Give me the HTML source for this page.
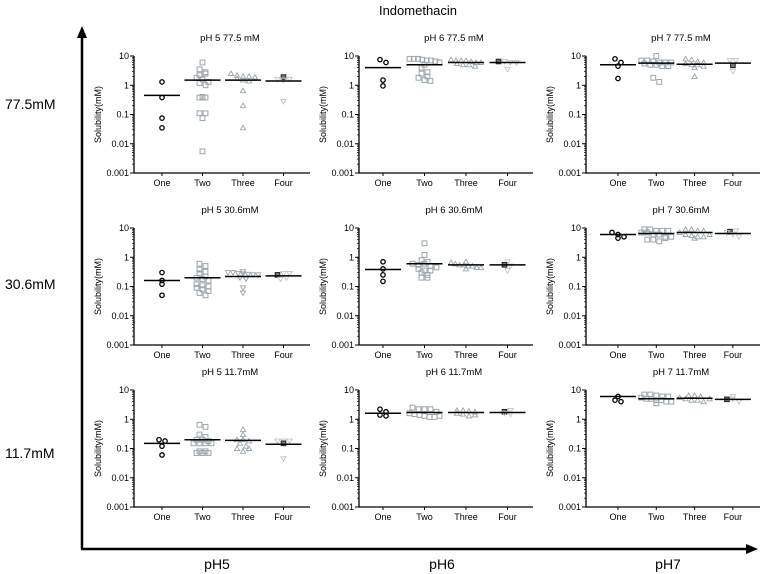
<!DOCTYPE html>
<html><head><meta charset="utf-8"><style>
html,body{margin:0;padding:0;background:#fff;}
svg{display:block;font-family:"Liberation Sans",Arial,sans-serif;}
</style></head><body>
<svg id="fig" width="764" height="574" viewBox="0 0 764 574">
<text x="418" y="15" text-anchor="middle" font-size="13">Indomethacin</text>
<g>
<line x1="82" y1="549" x2="82" y2="36" stroke="#000" stroke-width="2.5"/>
<polygon points="82,26 77,38 87,38" fill="#000"/>
<line x1="81" y1="549" x2="748" y2="549" stroke="#000" stroke-width="2.5"/>
<polygon points="758,549 746,544 746,554" fill="#000"/>
<text x="5" y="109" font-size="14">77.5mM</text>
<text x="5" y="289" font-size="14">30.6mM</text>
<text x="5" y="458" font-size="14">11.7mM</text>
<text x="217" y="569" font-size="14" text-anchor="middle">pH5</text>
<text x="442" y="569" font-size="14" text-anchor="middle">pH6</text>
<text x="668" y="569" font-size="14" text-anchor="middle">pH7</text>
</g>
<g id="panels"></g>
</svg>
<script>
const categories = ["One","Two","Three","Four"];
const tickValues = [10,1,0.1,0.01,0.001];
const tickLabels = ["10","1","0.1","0.01","0.001"];
const panelTitles = [
 "pH 5 77.5 mM","pH 6 77.5 mM","pH 7 77.5 mM",
 "pH 5 30.6mM","pH 6 30.6mM","pH 7 30.6mM",
 "pH 5 11.7mM","pH 6 11.7mM","pH 7 11.7mM"];
// per panel: values for groups One, Two, Three, Four
const groupOne = [
 [1.3,0.38,0.075,0.035],[7.5,6,1.5,0.95],[8,6,4.5,1.7],
 [0.3,0.16,0.12,0.05],[0.7,0.4,0.25,0.15],[7,6,5,4.5],
 [0.2,0.18,0.12,0.06],[2.2,1.8,1.4,1.3],[6,4.5,4]];
const groupTwo = [
 [6,3.5,2.8,2.2,2.5,1.8,1.6,1.3,1.2,1.0,0.4,0.38,0.38,0.11,0.11,0.075,0.0055],
 [8,8,8,7.5,7,7,6.5,6,5,4,2.8,2.5,2,1.8,1.5,1.4],
 [10,7,7,6.5,6,6,6,5.5,5,5,4.5,4.5,1.8,1.3],
 [0.6,0.5,0.38,0.32,0.28,0.22,0.2,0.18,0.16,0.12,0.11,0.1,0.09,0.08,0.07,0.06,0.05],
 [3,1.2,0.8,0.7,0.6,0.55,0.6,0.5,0.45,0.4,0.35,0.35,0.3,0.25,0.2,0.2],
 [9,9,8,8,8,7,7,6,6,5,5,4,4,3.5,4.5],
 [0.65,0.55,0.3,0.25,0.2,0.2,0.18,0.15,0.15,0.15,0.15,0.08,0.07,0.07,0.07,0.08],
 [2.5,2.2,2.2,2.2,1.8,1.6,1.5,1.4,1.3,1.2,1.2,1.3],
 [7,7,6.5,6,6,5.5,5,5,4.5,4.5,4,4,3.5]];
const groupThree = [
 [2.5,2.2,2,2,1.9,1.7,1.5,1.4,0.65,0.2,0.035],
 [7.5,7,7,7,6.5,6,6,5.5,5,5,4.5],
 [8,7.5,6.5,6,5.5,5,5,4.5,4,2],
 [0.32,0.3,0.3,0.28,0.27,0.26,0.25,0.25,0.2,0.18,0.09,0.06],
 [0.7,0.65,0.6,0.55,0.55,0.5,0.5,0.45,0.45,0.4],
 [9,9,8,8,7,6,5.5,5,5,4.5,6],
 [0.45,0.3,0.2,0.2,0.18,0.15,0.12,0.1,0.08,0.1],
 [2,2,1.9,1.8,1.6,1.5,1.3,1.4],
 [6.5,6.5,6,5.5,5,4.5,4.5,4,5]];
const groupFour = [
 [1.9,1.6,1.5,1.6,0.28],[6.5,6.5,6,6,3.5],[4.8,7,7,3],
 [0.25,0.28,0.28,0.18,0.2],[0.55,0.7,0.5,0.35],[7.5,8,7,6,5],
 [0.15,0.18,0.18,0.18,0.045],[1.8,2,1.6,1.5],[4.8,6,5,4]];
const groupMeans = [
 [0.45,1.5,1.5,1.4],[4,5,6,6],[5,5.7,5.2,5.7],
 [0.16,0.2,0.22,0.23],[0.38,0.6,0.55,0.55],[6,6.5,7,6.5],
 [0.15,0.2,0.19,0.14],[1.6,1.7,1.7,1.7],[6,5,5.2,4.8]];

const NS="http://www.w3.org/2000/svg";
const colAxisX=[134,359,586], colEndX=[310,533,760], colCat0=[162,383,618], colStep=[40.5,41.5,38.3];
const rowTop=[56,228,390], plotH=117;
const root=document.getElementById('panels');
function mk(tag,attrs,parent){const e=document.createElementNS(NS,tag);for(const k in attrs)e.setAttribute(k,attrs[k]);parent.appendChild(e);return e;}

for(let p=0;p<9;p++){
  const r=Math.floor(p/3), c=p%3;
  const ax=colAxisX[c], top=rowTop[r], bot=top+plotH;
  const yS=v=>bot-(Math.log10(v)+3)/4*plotH;
  const xS=i=>colCat0[c]+i*colStep[c];
  const g=mk('g',{},root);
  
  
  const t=mk('text',{x:(ax+colEndX[c])/2+8,y:top-15,'text-anchor':'middle','font-size':'9.5'},g);
  t.textContent=panelTitles[p];
  
  
  const yl=mk('text',{x:0,y:0,'text-anchor':'middle','font-size':'9',transform:`translate(${ax-33},${(top+bot)/2}) rotate(-90)`},g);
  yl.textContent='Solubility(mM)';
  
  
  const axl=mk('path',{d:`M${ax},${top} V${bot} H${colEndX[c]}`,stroke:'#000','stroke-width':'1.3',fill:'none'},g);
  
  
  tickValues.forEach((v,i)=>{
    const y=yS(v);
    mk('line',{x1:ax-4,x2:ax,y1:y,y2:y,stroke:'#000','stroke-width':'1'},g);
    const tl=mk('text',{x:ax-5,y:y+3,'text-anchor':'end','font-size':'9'},g);
    tl.textContent=tickLabels[i];
    
    
    if(v<10){for(let m=2;m<=9;m++){const ym=yS(v*m);mk('line',{x1:ax-2,x2:ax,y1:ym,y2:ym,stroke:'#000','stroke-width':'0.7'},g);}}
  });
  categories.forEach((cat,i)=>{
    const x=xS(i);
    mk('line',{x1:x,x2:x,y1:bot,y2:bot+3,stroke:'#000','stroke-width':'1'},g);
    const cl=mk('text',{x:x,y:bot+13,'text-anchor':'middle','font-size':'9'},g);
    cl.textContent=cat;
    
    
  });
  const groups=[groupOne[p],groupTwo[p],groupThree[p],groupFour[p]];
  groups.forEach((vals,gi)=>{
    const cx=xS(gi);
    const bins={};
    vals.forEach((v,k)=>{const y=yS(v);const b=Math.round(y/5);(bins[b]=bins[b]||[]).push({v,k,y});});
    Object.values(bins).forEach(arr=>{
      const n=arr.length;
      const sp=n>1?Math.min(6,30/(n-1)):0;
      arr.forEach((o,j)=>{
        const x=cx+(j-(n-1)/2)*sp;
        const y=o.y;
        let el;
        if(gi===0){el=mk('circle',{cx:x,cy:y,r:2.2,fill:'none',stroke:'#000','stroke-width':'1.3'},g);}
        else if(gi===1){el=mk('rect',{x:x-2.4,y:y-2.4,width:4.8,height:4.8,fill:'none',stroke:'#9aa5ab','stroke-width':'1'},g);}
        else if(gi===2){const inv=(p===3);const d=inv?`M${x-2.6},${y-2} L${x+2.6},${y-2} L${x},${y+2.5} Z`:`M${x-2.6},${y+2} L${x+2.6},${y+2} L${x},${y-2.5} Z`;el=mk('path',{d,fill:'none',stroke:'#9aa5ab','stroke-width':'0.9'},g);}
        else{
          if(o.k===0){el=mk('rect',{x:x-2.3,y:y-2.3,width:4.6,height:4.6,fill:'#777',stroke:'#222','stroke-width':'1'},g);}
          else{el=mk('path',{d:`M${x-2.6},${y-2} L${x+2.6},${y-2} L${x},${y+2.5} Z`,fill:'none',stroke:'#c4c4c4','stroke-width':'0.9'},g);}
        }
        
        
      });
    });
    const my=yS(groupMeans[p][gi]);
    const ml=mk('line',{x1:cx-18,x2:cx+18,y1:my,y2:my,stroke:'#000','stroke-width':'1.5'},g);
    
    
  });
}
</script>
</body></html>
